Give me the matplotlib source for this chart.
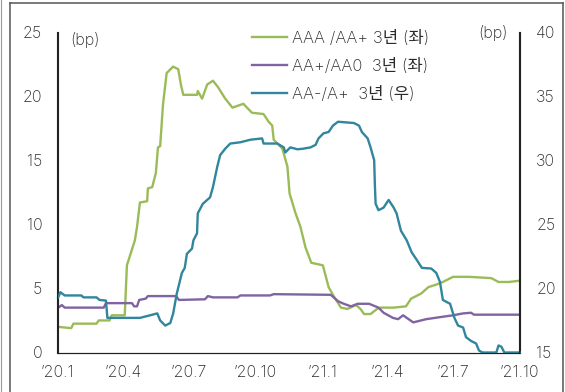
import matplotlib
matplotlib.use("Agg")
import matplotlib.pyplot as plt
from matplotlib.lines import Line2D
import pandas as pd

plt.rcParams['font.family'] = ['Inter', 'Noto Sans CJK KR']
plt.rcParams['font.weight'] = 'light'

# AAA / AA+ 3-year spread (left axis, bp)
aaa_dates = ["2020-01-02","2020-01-20","2020-01-23","2020-02-24","2020-02-27","2020-03-13","2020-03-16","2020-04-03","2020-04-06","2020-04-17","2020-04-20","2020-04-24","2020-05-04","2020-05-05","2020-05-11","2020-05-16","2020-05-19","2020-05-22","2020-05-26","2020-05-31","2020-06-09","2020-06-16","2020-06-20","2020-06-23","2020-07-12","2020-07-13","2020-07-19","2020-07-26","2020-08-03","2020-08-10","2020-08-20","2020-08-30","2020-09-14","2020-09-26","2020-10-12","2020-10-19","2020-10-24","2020-10-26","2020-11-07","2020-11-14","2020-11-17","2020-11-25","2020-12-02","2020-12-09","2020-12-17","2021-01-02","2021-01-10","2021-01-17","2021-01-27","2021-02-05","2021-02-17","2021-02-23","2021-02-28","2021-03-09","2021-03-18","2021-03-23","2021-04-10","2021-04-27","2021-05-04","2021-05-18","2021-05-28","2021-06-08","2021-06-17","2021-07-01","2021-07-24","2021-08-23","2021-09-02","2021-09-16","2021-10-01"]
aaa_vals = [2.0,1.9,2.25,2.25,2.5,2.5,2.9,2.9,6.8,8.75,9.8,11.7,11.8,12.8,12.9,14.0,16.0,16.1,19.4,21.8,22.3,22.1,20.8,20.1,20.1,20.4,19.8,20.9,21.2,20.7,19.8,19.1,19.4,18.7,18.6,18.0,17.7,16.6,15.9,14.5,12.4,10.9,9.8,8.2,7.0,6.8,5.1,4.4,3.5,3.4,3.7,3.4,3.0,3.0,3.4,3.5,3.5,3.6,4.2,4.6,5.1,5.3,5.5,5.9,5.9,5.8,5.5,5.5,5.6]

# AA+ / AA0 3-year spread (left axis, bp)
aap_dates = ["2020-01-02","2020-01-07","2020-01-11","2020-03-05","2020-03-08","2020-04-13","2020-04-16","2020-04-20","2020-04-23","2020-05-02","2020-05-05","2020-06-13","2020-06-17","2020-07-23","2020-07-27","2020-08-03","2020-09-06","2020-09-10","2020-10-21","2020-10-26","2021-01-13","2021-01-23","2021-01-31","2021-02-10","2021-02-19","2021-03-07","2021-03-20","2021-03-27","2021-04-09","2021-04-16","2021-04-23","2021-05-07","2021-05-25","2021-06-12","2021-07-01","2021-07-15","2021-07-26","2021-07-30","2021-10-01"]
aap_vals = [3.5,3.7,3.5,3.5,3.85,3.85,3.6,3.6,4.1,4.2,4.4,4.4,4.1,4.15,4.4,4.3,4.3,4.45,4.45,4.55,4.5,4.0,3.8,3.6,3.8,3.8,3.5,3.1,2.7,2.6,2.9,2.35,2.6,2.75,2.9,3.05,3.1,2.95,2.95]

# AA- / A+ 3-year spread (right axis, bp)
aam_dates = ["2020-01-02","2020-01-05","2020-01-11","2020-02-03","2020-02-06","2020-02-24","2020-02-28","2020-03-08","2020-03-10","2020-04-24","2020-05-08","2020-05-18","2020-05-22","2020-05-29","2020-06-05","2020-06-09","2020-06-14","2020-06-21","2020-06-25","2020-06-28","2020-07-05","2020-07-07","2020-07-12","2020-07-13","2020-07-20","2020-07-30","2020-08-03","2020-08-09","2020-08-13","2020-08-20","2020-08-27","2020-09-10","2020-09-24","2020-10-10","2020-10-12","2020-10-31","2020-11-09","2020-11-11","2020-11-18","2020-11-28","2020-12-06","2020-12-16","2020-12-23","2020-12-27","2021-01-03","2021-01-10","2021-01-16","2021-01-23","2021-02-14","2021-02-21","2021-02-25","2021-03-05","2021-03-09","2021-03-14","2021-03-15","2021-03-16","2021-03-20","2021-03-27","2021-04-03","2021-04-10","2021-04-14","2021-04-20","2021-04-28","2021-05-05","2021-05-11","2021-05-19","2021-06-01","2021-06-08","2021-06-13","2021-06-17","2021-06-27","2021-07-03","2021-07-08","2021-07-15","2021-07-19","2021-07-26","2021-08-02","2021-08-06","2021-08-11","2021-08-30","2021-09-02","2021-09-06","2021-09-10","2021-10-01"]
aam_vals = [19.3,19.7,19.45,19.45,19.3,19.3,19.1,19.05,17.7,17.7,17.9,18.05,17.5,17.1,17.3,18.05,19.6,21.2,21.6,22.7,23.1,23.75,24.3,25.85,26.6,27.1,27.9,29.5,30.4,30.9,31.3,31.4,31.6,31.7,31.3,31.3,31.0,30.6,31.0,30.85,30.9,31.0,31.2,31.7,32.1,32.2,32.7,33.0,32.9,32.7,32.2,31.7,31.0,30.0,28.0,26.6,26.1,26.3,26.9,26.3,25.85,24.5,23.75,22.8,22.3,21.6,21.55,21.2,20.5,19.1,18.8,17.7,17.1,16.95,16.2,15.9,15.7,15.15,15.0,15.0,15.55,15.45,15.0,15.0]

series_labels = ["AAA /AA+ 3년 (좌)", "AA+/AA0  3년 (좌)", "AA-/A+  3년 (우)"]
series_colors = ["#9bbb59", "#8064a2", "#31859c"]

tick_dates = ["2020-01-01","2020-04-01","2020-07-01","2020-10-01","2021-01-01","2021-04-01","2021-07-01","2021-10-01"]
tick_labels = ["’20.1","’20.4","’20.7","’20.10","’21.1","’21.4","’21.7","’21.10"]
left_ticks = [0, 5, 10, 15, 20, 25]
right_ticks = [15, 20, 25, 30, 35, 40]

W, H = 565, 392
fig = plt.figure(figsize=(W/100, H/100), dpi=100)
ax = fig.add_axes([57.5/W, 1-352.5/H, (519.5-57.5)/W, (352.5-32)/H])
ax2 = ax.twinx()

lw = 1.7
l1, = ax.plot(pd.to_datetime(aaa_dates), aaa_vals, color=series_colors[0], lw=lw)
l2, = ax.plot(pd.to_datetime(aap_dates), aap_vals, color=series_colors[1], lw=lw)
l3, = ax2.plot(pd.to_datetime(aam_dates), aam_vals, color=series_colors[2], lw=lw, clip_on=False)

ax.set_xlim(pd.Timestamp("2020-01-01"), pd.Timestamp("2021-10-01"))
ax.set_ylim(0, 25)
ax2.set_ylim(15, 40)
ax.set_xticks(pd.to_datetime(tick_dates))
ax.set_xticklabels(tick_labels)
ax.set_yticks(left_ticks)
ax2.set_yticks(right_ticks)

fs = 11.5
txt_color = '#2a2a2a'
for a in (ax, ax2):
    a.spines['top'].set_visible(False)
    for s in ('left', 'right', 'bottom'):
        a.spines[s].set_color('#222222')
        a.spines[s].set_linewidth(0.8)
    a.tick_params(length=0, labelsize=fs, colors=txt_color)
ax.tick_params(axis='x', pad=9)
ax.tick_params(axis='y', pad=11)
ax2.tick_params(axis='y', pad=12)

fig.text(70/W, 1-40/H, "(bp)", fontsize=fs, color=txt_color, va='center', ha='left')
fig.text(508/W, 1-33/H, "(bp)", fontsize=fs, color=txt_color, va='center', ha='right')

fig.legend([l1, l2, l3], series_labels, loc='upper left',
           bbox_to_anchor=(252/W, 1-30/H), frameon=False, fontsize=12,
           handlelength=2.1, handletextpad=0.3, labelspacing=0.72,
           borderpad=0, borderaxespad=0, labelcolor=txt_color)

# outer frame
frame_color = '#555555'
fig.add_artist(Line2D([9.5/W, 9.5/W], [0, 1-3/H], color=frame_color, lw=1.1))
fig.add_artist(Line2D([9.5/W, 562.5/W], [1-3/H, 1-3/H], color=frame_color, lw=1.1))
fig.add_artist(Line2D([562.5/W, 562.5/W], [0, 1-3/H], color=frame_color, lw=1.1))
fig.add_artist(Line2D([1/W, 1/W], [0, 1], color='#999999', lw=0.8))

fig.savefig("out.png", dpi=100)
